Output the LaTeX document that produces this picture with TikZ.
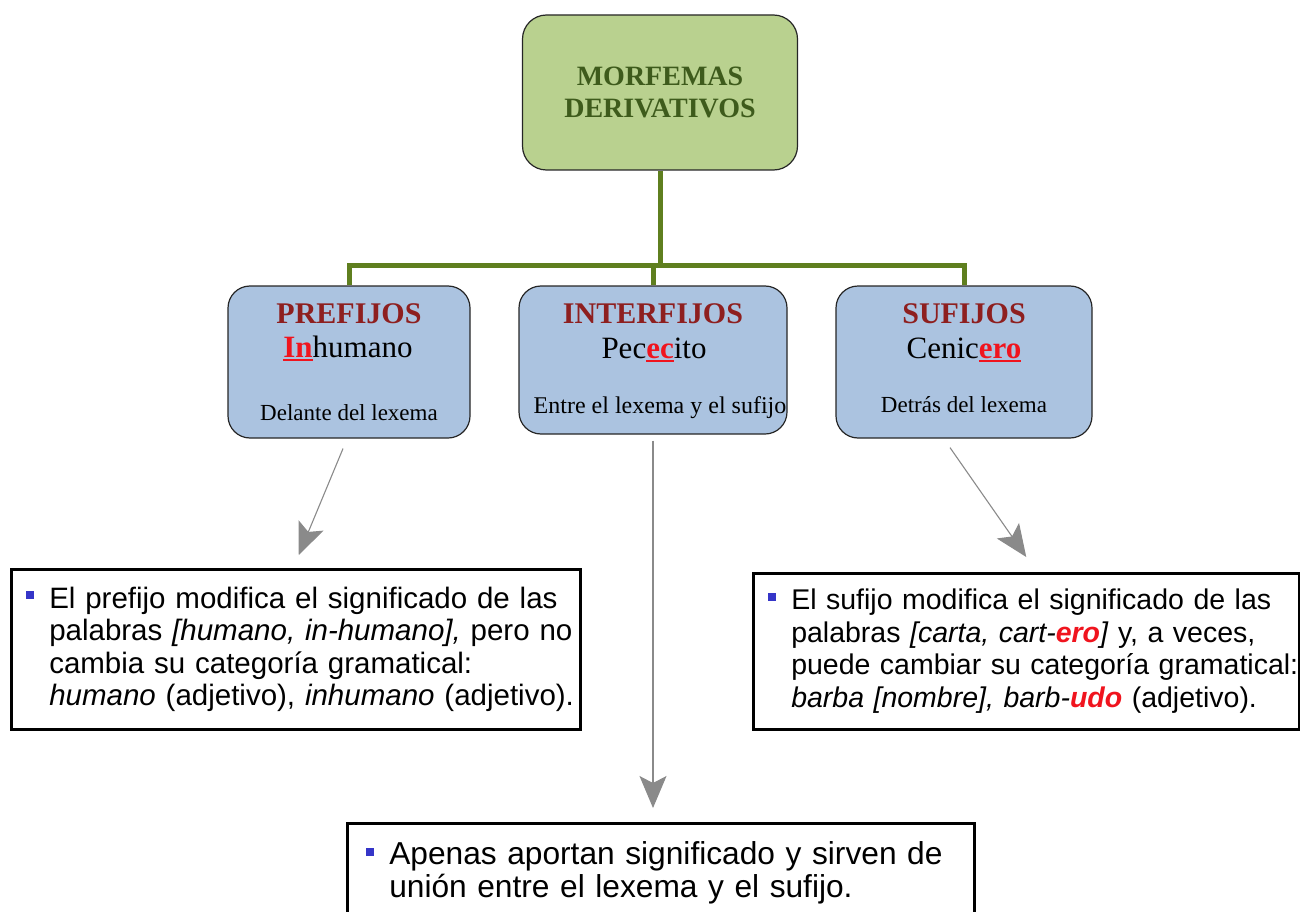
\documentclass[tikz,border=0pt]{standalone}
\usepackage{fontspec}
\setmainfont{Liberation Serif}
\setsansfont{Liberation Sans}
\usetikzlibrary{arrows.meta}

\definecolor{leafgreen}{HTML}{B9D18F}
\definecolor{rootgreen}{HTML}{3E5B1C}
\definecolor{stemgreen}{HTML}{5F7F1F}
\definecolor{catblue}{HTML}{ABC3E0}
\definecolor{catred}{HTML}{8E1F1F}
\definecolor{markred}{HTML}{F0141E}
\definecolor{bulletblue}{HTML}{3535C8}
\definecolor{pointgray}{HTML}{8A8A8A}

\newsavebox{\affixbox}
% red, underlined piece of a word
\newcommand{\affix}[1]{\textcolor{markred}{\bfseries\sbox{\affixbox}{#1}%
  \rlap{\rule[-4pt]{\wd\affixbox}{2pt}}\usebox{\affixbox}}}
% red piece inside the notes
\newcommand{\redbit}[1]{\textcolor{markred}{\bfseries\itshape #1}}
\newcommand{\blob}{\leavevmode\llap{\textcolor{bulletblue}{\raisebox{9pt}{\rule{8pt}{8pt}}}\hspace{15pt}}}

\tikzset{
  root/.style={draw=black!85, line width=1.2pt, rounded corners=24pt, fill=leafgreen,
    minimum width=275pt, minimum height=155pt, align=center, text=rootgreen,
    font=\fontsize{28}{32}\selectfont\bfseries},
  catbox/.style={draw=black!85, line width=1.2pt, rounded corners=22pt, fill=catblue},
  cattitle/.style={anchor=base, inner sep=0pt, text=catred, font=\fontsize{30}{34}\selectfont\bfseries},
  catword/.style={anchor=base, inner sep=0pt, font=\fontsize{31}{34}\selectfont},
  catnote/.style={anchor=base, inner sep=0pt, font=\fontsize{23}{28}\selectfont},
  note/.style={draw=black, line width=2.5pt, inner xsep=0pt, inner ysep=0pt, align=left,
    anchor=north west, font=\sffamily\fontsize{29.5}{32.5}\selectfont},
  stem/.style={draw=stemgreen, line width=5pt},
  pointer/.style={draw=pointgray, line width=1.1pt, -{Stealth[length=32pt,width=27pt,inset=7pt]}}
}

\begin{document}
\begin{tikzpicture}[x=1pt,y=-1pt]
  \useasboundingbox (0,0) rectangle (1300,912);

  % root and the three kinds of affix
  \node[root] (root) at (660,92.5) {MORFEMAS\\DERIVATIVOS};
  \node[catbox, minimum width=242pt, minimum height=152pt] (pre) at (349,362) {};
  \node[catbox, minimum width=268pt, minimum height=148pt] (inter) at (653,360) {};
  \node[catbox, minimum width=256pt, minimum height=152pt] (suf) at (964,362) {};

  \node[cattitle] (preT) at (349,323) {PREFIJOS};
  \node[catword] (preW) at (348,357) {\affix{In}humano};
  \node[catnote] (preD) at (349,420) {Delante del lexema};
  \node[cattitle] (interT) at (653,323) {INTERFIJOS};
  \node[catword] (interW) at (654,358) {Pec\affix{ec}ito};
  \node[catnote, font=\fontsize{24}{28}\selectfont] (interD) at (660,413) {Entre el lexema y el sufijo};
  \node[cattitle] (sufT) at (964,323) {SUFIJOS};
  \node[catword] (sufW) at (964,358) {Cenic\affix{ero}};
  \node[catnote] (sufD) at (964,412) {Detrás del lexema};

  % tree
  \coordinate (fork) at (660,265);
  \draw[stem] (root.south) -- (fork);
  \draw[stem] (pre.north) |- (fork) -| (suf.north);
  \draw[stem] (inter.north) -- (inter.north |- fork);

  % notes
  \node[note, text width=569pt, minimum height=160pt] (preNote) at (10,568)
    {\leftskip=38pt\blob El prefijo modifica el significado de las\\
     palabras \textit{[humano, in-humano],} pero no\\
     cambia su categoría gramatical:\\
     \textit{humano} (adjetivo), \textit{inhumano} (adjetivo).\par};
  \node[note, text width=546pt, minimum height=156pt, font=\sffamily\fontsize{28.5}{32.5}\selectfont] (sufNote) at (752,572)
    {\leftskip=38pt\blob El sufijo modifica el significado de las\\
     palabras \textit{[carta, cart-}\redbit{ero}\textit{]} y, a veces,\\
     puede cambiar su categoría gramatical:\\
     \textit{barba [nombre], barb-}\redbit{udo} (adjetivo).\par};
  \node[note, text width=627pt, minimum height=100pt, font=\sffamily\fontsize{31.7}{33}\selectfont] (interNote) at (346,822)
    {\leftskip=42pt\blob Apenas aportan significado y sirven de\\
     unión entre el lexema y el sufijo.\par};

  % arrows down to the notes
  \draw[pointer] ([xshift=-6pt,yshift=-10pt]pre.south) -- ([xshift=3pt,yshift=13pt]preNote.north);
  \draw[pointer] ([yshift=-6pt]inter.south) -- ([yshift=14pt]inter.south |- interNote.north);
  \draw[pointer] ([xshift=-14pt,yshift=-9pt]suf.south) -- ([yshift=15pt]sufNote.north);
\end{tikzpicture}
\end{document}
